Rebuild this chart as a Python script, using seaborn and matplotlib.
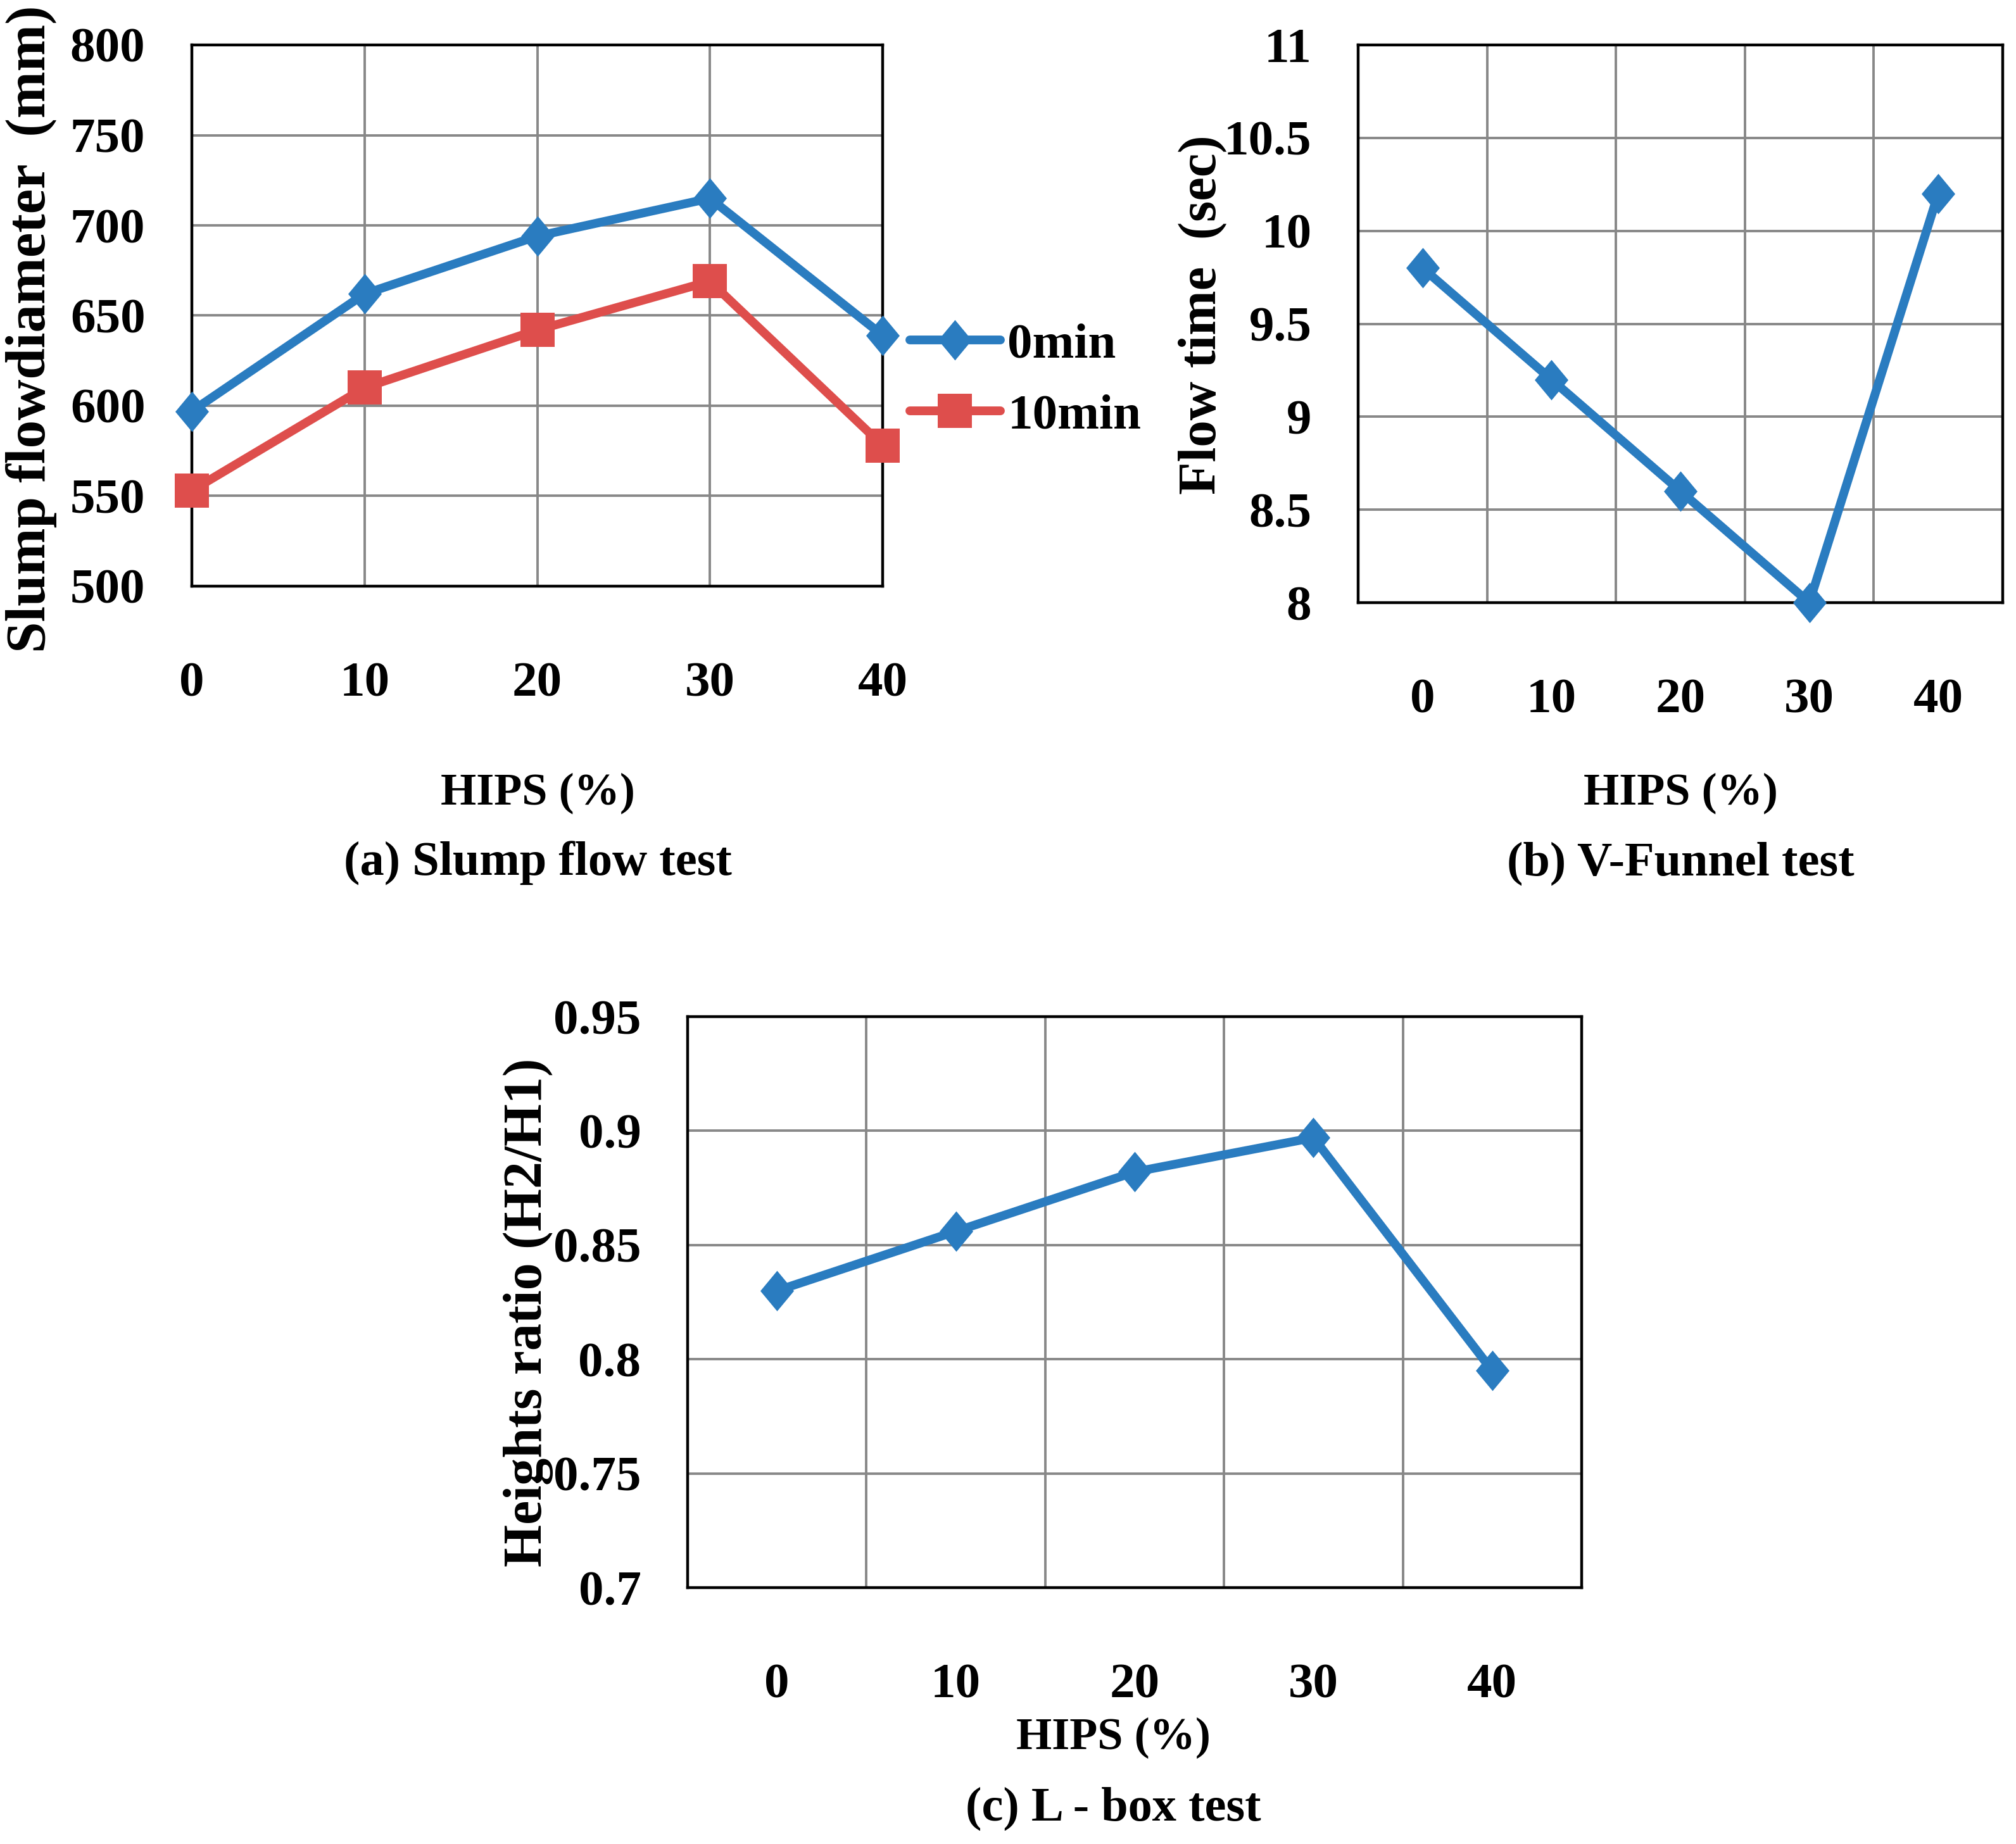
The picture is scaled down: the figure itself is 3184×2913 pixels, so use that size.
import numpy as np
import pandas as pd
import seaborn as sns
import matplotlib.pyplot as plt
from matplotlib.ticker import FuncFormatter

# data
hips = [0, 10, 20, 30, 40]
slump_0min = [597, 662, 694, 715, 639]
slump_10min = [553, 610, 642, 669, 578]
vfunnel_time = [9.8, 9.2, 8.6, 8.0, 10.2]
lbox_ratio = [0.830, 0.856, 0.882, 0.897, 0.795]

slump_ticks = [500, 550, 600, 650, 700, 750, 800]
vfunnel_ticks = [8, 8.5, 9, 9.5, 10, 10.5, 11]
lbox_ticks = [0.7, 0.75, 0.8, 0.85, 0.9, 0.95]

BLUE = '#2A7CC0'
RED = '#DE4E4C'
GRID = '#888888'

sns.set_theme(style='white')
plt.rcParams['font.family'] = ['Liberation Serif', 'DejaVu Serif']
plt.rcParams['font.weight'] = 'bold'
plt.rcParams['text.color'] = 'black'
plt.rcParams['xtick.color'] = 'black'
plt.rcParams['ytick.color'] = 'black'

W, H = 3184, 2913
fig = plt.figure(figsize=(W / 100, H / 100), dpi=100)


def box(l, t, r, b):
    return [l / W, 1 - b / H, (r - l) / W, (b - t) / H]


diamond = [(0, 1), (0.83, 0), (0, -1), (-0.83, 0), (0, 1)]
line_kw = dict(linewidth=10, markeredgewidth=0, clip_on=False, zorder=5)
TICK_FS = 57
CAP_FS = 55


def style_axes(ax, yticks, between):
    ax.set_ylim(yticks[0], yticks[-1])
    ax.set_yticks(yticks)
    ax.yaxis.set_major_formatter(FuncFormatter(lambda v, p: f'{v:g}'))
    if between:
        ax.set_xlim(-5, 45)
        ax.set_xticks(hips)
        ax.set_xticks([5, 15, 25, 35], minor=True)
        ax.grid(False, axis='x', which='major')
        ax.grid(True, axis='x', which='minor', color=GRID, linewidth=2.8)
    else:
        ax.set_xlim(0, 40)
        ax.set_xticks(hips)
        ax.grid(True, axis='x', which='major', color=GRID, linewidth=2.8)
    ax.grid(True, axis='y', which='major', color=GRID, linewidth=2.8)
    ax.tick_params(axis='both', which='both', length=0, labelsize=TICK_FS,
                   labelcolor='black')
    ax.tick_params(axis='y', pad=53)
    ax.tick_params(axis='x', pad=86)
    for lab in ax.get_xticklabels() + ax.get_yticklabels():
        lab.set_fontweight('bold')
    for sp in ax.spines.values():
        sp.set_visible(True)
        sp.set_color('black')
        sp.set_linewidth(3.2)
        sp.set_zorder(4)
    ax.set_axisbelow(True)
    ax.set_xlabel('')
    ax.set_ylabel('')


# (a) slump flow
ax_a = fig.add_axes(box(303, 71, 1394, 926))
df_a = pd.DataFrame({'HIPS': hips, '0min': slump_0min, '10min': slump_10min})
sns.lineplot(data=df_a, x='HIPS', y='0min', ax=ax_a, color=BLUE, marker=diamond,
             markersize=46, label='0min', **line_kw)
sns.lineplot(data=df_a, x='HIPS', y='10min', ax=ax_a, color=RED, marker='s',
             markersize=39, label='10min', **line_kw)
style_axes(ax_a, slump_ticks, between=False)
leg = ax_a.legend(loc='center left', bbox_to_anchor=(1437 / W, 1 - 601 / H),
                  bbox_transform=fig.transFigure, frameon=False,
                  handlelength=1.8, handletextpad=0.15, labelspacing=0.5,
                  borderpad=0, borderaxespad=0,
                  prop={'weight': 'bold', 'size': TICK_FS})

# (b) V-funnel
ax_b = fig.add_axes(box(2145, 71, 3163, 952))
df_b = pd.DataFrame({'HIPS': hips, 'time': vfunnel_time})
sns.lineplot(data=df_b, x='HIPS', y='time', ax=ax_b, color=BLUE, marker=diamond,
             markersize=46, **line_kw)
style_axes(ax_b, vfunnel_ticks, between=True)

# (c) L-box
ax_c = fig.add_axes(box(1086, 1606, 2498, 2508))
df_c = pd.DataFrame({'HIPS': hips, 'ratio': lbox_ratio})
sns.lineplot(data=df_c, x='HIPS', y='ratio', ax=ax_c, color=BLUE, marker=diamond,
             markersize=46, **line_kw)
style_axes(ax_c, lbox_ticks, between=True)


# axis labels and captions
def ftext(x, y, s, size, rot=0):
    fig.text(x / W, 1 - y / H, s, ha='center', va='center', rotation=rot,
             fontsize=size, fontweight='bold', color='black')


ftext(50, 520, 'Slump flowdiameter  (mm)', 64, 90)
ftext(1899, 497, 'Flow time  (sec)', 61, 90)
ftext(834, 2073, 'Heights ratio (H2/H1)', 62, 90)

ftext(849, 1253, 'HIPS (%)', 52)
ftext(849, 1364, '(a) Slump flow test', CAP_FS)
ftext(2654, 1253, 'HIPS (%)', 52)
ftext(2654, 1364, '(b) V-Funnel test', CAP_FS)
ftext(1758, 2745, 'HIPS (%)', 52)
ftext(1758, 2857, '(c) L - box test', CAP_FS)

fig.savefig('out.png', dpi=100, facecolor='white')
